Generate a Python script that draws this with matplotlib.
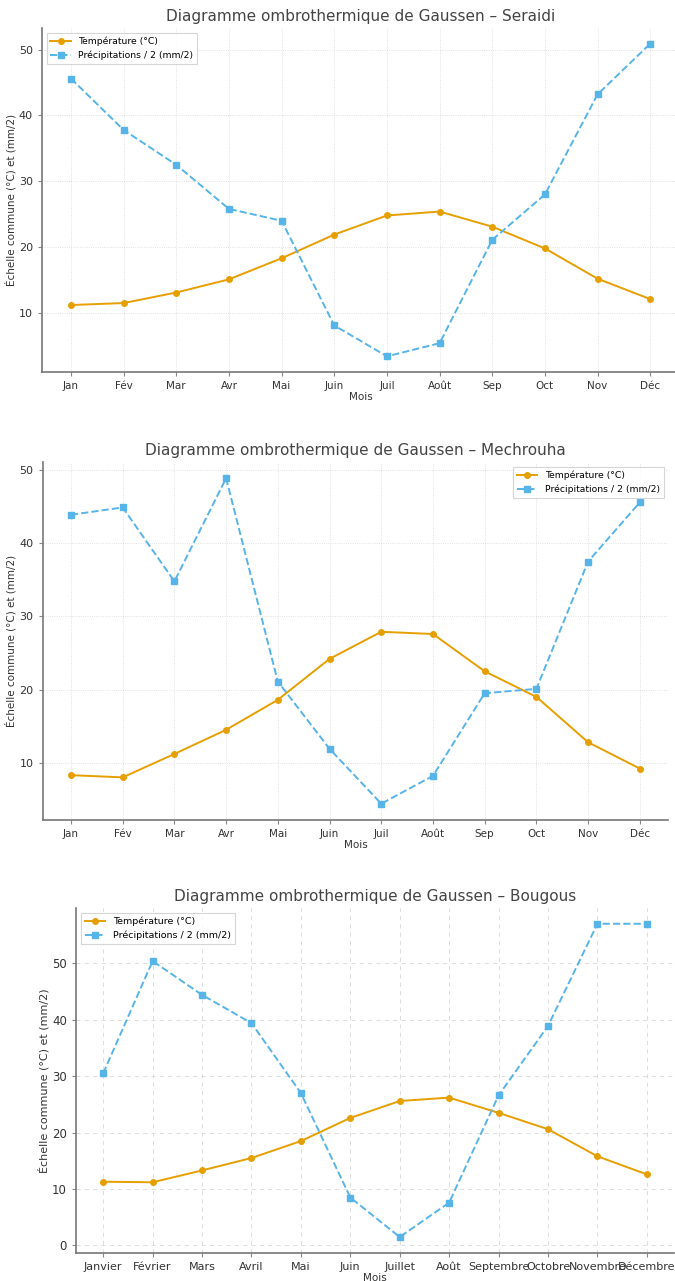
import matplotlib
matplotlib.use("Agg")
import matplotlib.pyplot as plt

mois_courts = ["Jan", "Fév", "Mar", "Avr", "Mai", "Juin", "Juil", "Août", "Sep", "Oct", "Nov", "Déc"]
mois_longs = ["Janvier", "Février", "Mars", "Avril", "Mai", "Juin", "Juillet", "Août",
              "Septembre", "Octobre", "Novembre", "Décembre"]

temp_seraidi = [11.2, 11.5, 13.1, 15.1, 18.3, 21.9, 24.8, 25.4, 23.1, 19.8, 15.2, 12.1]
prec_seraidi = [45.6, 37.8, 32.5, 25.8, 24.0, 8.1, 3.4, 5.4, 21.1, 28.0, 43.2, 50.9]

temp_mechrouha = [8.3, 8.0, 11.2, 14.5, 18.6, 24.2, 27.9, 27.6, 22.5, 19.0, 12.8, 9.2]
prec_mechrouha = [43.9, 44.9, 34.8, 48.9, 21.1, 11.9, 4.4, 8.2, 19.5, 20.1, 37.5, 45.6]

temp_bougous = [11.3, 11.2, 13.3, 15.5, 18.5, 22.6, 25.6, 26.2, 23.5, 20.6, 15.8, 12.6]
prec_bougous = [30.5, 50.4, 44.4, 39.4, 27.0, 8.5, 1.5, 7.6, 26.6, 38.9, 57.0, 57.0]

C_T = "#E69F00"
C_P = "#56B4E9"

fig = plt.figure(figsize=(6.75, 12.81), dpi=100)


def panel(rect, labels, temp, prec, station, loc, grid_ls, tick_fs, ytick_fs, ylab_fs, leg_fs):
    ax = fig.add_axes(rect)
    x = range(len(labels))
    ax.plot(x, temp, color=C_T, marker="o", ms=4, lw=1.4, label="Température (°C)")
    ax.plot(x, prec, color=C_P, marker="s", ms=4, lw=1.4, ls="--",
            label="Précipitations / 2 (mm/2)")
    ax.set_xticks(list(x))
    ax.set_xticklabels(labels, fontsize=tick_fs)
    ax.tick_params(axis="y", labelsize=ytick_fs, colors="#333333")
    ax.tick_params(axis="x", colors="#333333")
    ax.tick_params(length=3, color="#888888")
    ax.set_title(f"Diagramme ombrothermique de Gaussen – {station}",
                 fontsize=11, color="#444444", pad=5)
    ax.set_xlabel("Mois", fontsize=7.5, color="#333333", labelpad=1)
    ax.set_ylabel("Échelle commune (°C) et (mm/2)", fontsize=ylab_fs, color="#333333",
                  labelpad=2)
    ax.grid(True, ls=grid_ls, lw=0.6, color="#d8d8d8")
    for s in ("top", "right"):
        ax.spines[s].set_visible(False)
    for s in ("left", "bottom"):
        ax.spines[s].set_color("#777777")
        ax.spines[s].set_linewidth(1.2)
    leg = ax.legend(loc=loc, fontsize=leg_fs, frameon=True, fancybox=False,
                    handlelength=2.2, borderpad=0.4)
    leg.get_frame().set_edgecolor("#cccccc")
    leg.get_frame().set_linewidth(0.8)
    return ax


panel([0.0622, 0.7096, 0.944, 0.2685], mois_courts, temp_seraidi, prec_seraidi,
      "Seraidi", "upper left", ":", 7.5, 8, 7.5, 6.7)
panel([0.063, 0.3599, 0.927, 0.2795], mois_courts, temp_mechrouha, prec_mechrouha,
      "Mechrouha", "upper right", ":", 7.5, 8, 7.5, 6.7)
panel([0.1126, 0.0221, 0.886, 0.269], mois_longs, temp_bougous, prec_bougous,
      "Bougous", "upper left", (0, (5, 5)), 8, 8.5, 8, 6.8)

fig.savefig("out.png", dpi=100)
